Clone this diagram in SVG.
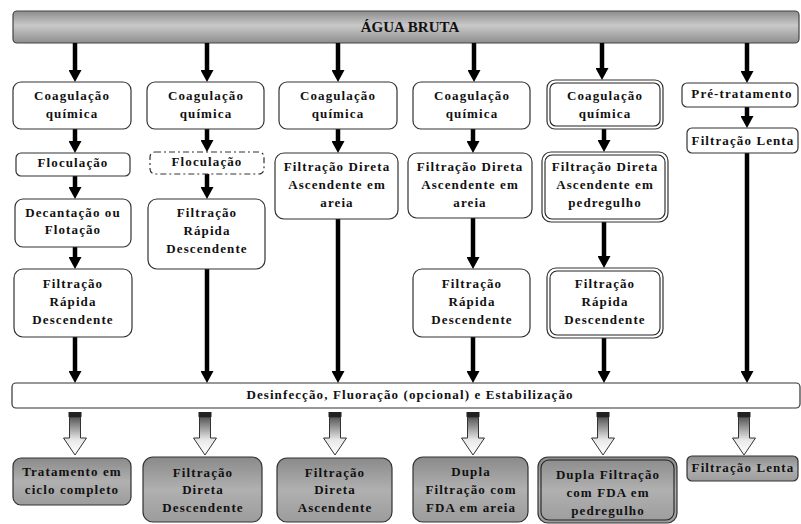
<svg xmlns="http://www.w3.org/2000/svg" width="801" height="524" viewBox="0 0 801 524">
<defs>
<style>
.box{fill:#fff;stroke:#333;stroke-width:1.2}
.dbl{fill:none;stroke:#222;stroke-width:1.1}
.dash{fill:#fff;stroke:#333;stroke-width:1.2;stroke-dasharray:6 3 2 3}
.gbox{fill:url(#gBox);stroke:#333;stroke-width:1.2}
.t{font-family:"Liberation Serif","Times New Roman",serif;font-weight:bold;font-size:13px;letter-spacing:1.1px;fill:#111;text-anchor:middle}
.title{font-family:"Liberation Serif","Times New Roman",serif;font-weight:bold;font-size:15px;fill:#111;text-anchor:middle}
.arr{stroke:#000;stroke-width:4.5;fill:none;marker-end:url(#ah)}
.hol{fill:url(#gHol);stroke:#333;stroke-width:1}
</style>
<linearGradient id="gBar" x1="0" y1="0" x2="0" y2="1">
<stop offset="0" stop-color="#8c8c8c"/>
<stop offset="0.45" stop-color="#c9c9c9"/>
<stop offset="1" stop-color="#8e8e8e"/>
</linearGradient>
<linearGradient id="gBox" x1="0" y1="0" x2="0" y2="1">
<stop offset="0" stop-color="#8a8a8a"/>
<stop offset="0.5" stop-color="#b0b0b0"/>
<stop offset="1" stop-color="#9c9c9c"/>
</linearGradient>
<linearGradient id="gHol" x1="0" y1="0" x2="0" y2="1">
<stop offset="0" stop-color="#555"/>
<stop offset="0.6" stop-color="#e8e8e8"/>
<stop offset="1" stop-color="#fff"/>
</linearGradient>
<marker id="ah" viewBox="0 0 12 13" refX="2" refY="6.5" markerWidth="12" markerHeight="13" markerUnits="userSpaceOnUse" orient="auto">
<path d="M0,0 L12,6.5 L0,13 z" fill="#000"/>
</marker>
<g id="hollow">
<path class="hol" d="M-5.5,417 L5.5,417 L5.5,438 L11.5,438 L0,455 L-11.5,438 L-5.5,438 Z"/>
<rect x="-6.5" y="412" width="13" height="5" fill="#222"/>
</g>
</defs>
<rect width="801" height="524" fill="#fff"/>

<g id="agua-bruta">
<rect x="13" y="11" width="786" height="32" rx="4" fill="url(#gBar)" stroke="#444" stroke-width="1.2"/>
<text class="title" x="410" y="32">ÁGUA BRUTA</text>
</g>

<g id="connectors">
<line class="arr" x1="75" y1="43" x2="75" y2="72"/>
<line class="arr" x1="207" y1="43" x2="207" y2="72"/>
<line class="arr" x1="338" y1="43" x2="338" y2="72"/>
<line class="arr" x1="474" y1="43" x2="474" y2="72"/>
<line class="arr" x1="602" y1="43" x2="602" y2="70"/>
<line class="arr" x1="747" y1="43" x2="747" y2="73"/>

<line class="arr" x1="75" y1="129" x2="75" y2="143"/>
<line class="arr" x1="75" y1="176" x2="75" y2="189"/>
<line class="arr" x1="75" y1="247" x2="75" y2="259"/>
<line class="arr" x1="75" y1="337" x2="75" y2="373"/>

<line class="arr" x1="207" y1="129" x2="207" y2="142"/>
<line class="arr" x1="207" y1="174" x2="207" y2="189"/>
<line class="arr" x1="207" y1="269" x2="207" y2="373"/>

<line class="arr" x1="338" y1="129" x2="338" y2="143"/>
<line class="arr" x1="338" y1="219" x2="338" y2="373"/>

<line class="arr" x1="473" y1="129" x2="473" y2="143"/>
<line class="arr" x1="473" y1="218" x2="473" y2="259"/>
<line class="arr" x1="473" y1="337" x2="473" y2="373"/>

<line class="arr" x1="604" y1="129" x2="604" y2="142"/>
<line class="arr" x1="604" y1="222" x2="604" y2="258"/>
<line class="arr" x1="604" y1="338" x2="604" y2="373"/>

<line class="arr" x1="747" y1="107" x2="747" y2="118"/>
<line class="arr" x1="747" y1="153" x2="747" y2="373"/>

<use href="#hollow" x="75" y="0"/>
<use href="#hollow" x="205" y="0"/>
<use href="#hollow" x="335" y="0"/>
<use href="#hollow" x="473" y="0"/>
<use href="#hollow" x="603" y="0"/>
<use href="#hollow" x="744" y="0"/>
</g>

<g id="c1-coag"><rect class="box" x="13" y="82" width="118" height="47" rx="8"/>
<text class="t" x="72" y="100">Coagulação</text><text class="t" x="72" y="118">química</text></g>
<g id="c2-coag"><rect class="box" x="147" y="82" width="117" height="47" rx="8"/>
<text class="t" x="206" y="100">Coagulação</text><text class="t" x="206" y="118">química</text></g>
<g id="c3-coag"><rect class="box" x="279" y="82" width="118" height="47" rx="8"/>
<text class="t" x="338" y="100">Coagulação</text><text class="t" x="338" y="118">química</text></g>
<g id="c4-coag"><rect class="box" x="413" y="82" width="117" height="47" rx="8"/>
<text class="t" x="472" y="100">Coagulação</text><text class="t" x="472" y="118">química</text></g>
<g id="c5-coag"><rect class="box" x="547" y="80" width="116" height="49" rx="8"/><rect class="dbl" x="550" y="83" width="110" height="43" rx="6"/>
<text class="t" x="605" y="100">Coagulação</text><text class="t" x="605" y="118">química</text></g>
<g id="c6-pre"><rect class="box" x="682" y="83" width="116" height="24" rx="5"/>
<text class="t" x="742" y="98">Pré-tratamento</text></g>
<g id="c6-lenta"><rect class="box" x="687" y="128" width="111" height="25" rx="5"/>
<text class="t" x="743" y="145">Filtração Lenta</text></g>

<g id="c1-floc"><rect class="box" x="16" y="153" width="114" height="23" rx="5"/>
<text class="t" x="73" y="167">Floculação</text></g>
<g id="c2-floc"><rect class="dash" x="150" y="152" width="114" height="22" rx="5"/>
<text class="t" x="207" y="166">Floculação</text></g>
<g id="c3-fda"><rect class="box" x="275" y="153" width="123" height="66" rx="9"/>
<text class="t" x="337" y="171">Filtração Direta</text><text class="t" x="337" y="189">Ascendente em</text><text class="t" x="337" y="207">areia</text></g>
<g id="c4-fda"><rect class="box" x="408" y="153" width="124" height="65" rx="9"/>
<text class="t" x="470" y="171">Filtração Direta</text><text class="t" x="470" y="189">Ascendente em</text><text class="t" x="470" y="207">areia</text></g>
<g id="c5-fdag"><rect class="box" x="542" y="152" width="126" height="70" rx="9"/><rect class="dbl" x="545" y="155" width="120" height="64" rx="7"/>
<text class="t" x="605" y="171">Filtração Direta</text><text class="t" x="605" y="189">Ascendente em</text><text class="t" x="605" y="207">pedregulho</text></g>

<g id="c1-dec"><rect class="box" x="15" y="199" width="116" height="48" rx="8"/>
<text class="t" x="73" y="217">Decantação ou</text><text class="t" x="73" y="234">Flotação</text></g>
<g id="c2-frd"><rect class="box" x="148" y="199" width="117" height="70" rx="9"/>
<text class="t" x="207" y="217">Filtração</text><text class="t" x="207" y="235">Rápida</text><text class="t" x="207" y="253">Descendente</text></g>

<g id="c1-frd"><rect class="box" x="14" y="269" width="118" height="68" rx="9"/>
<text class="t" x="73" y="288">Filtração</text><text class="t" x="73" y="306">Rápida</text><text class="t" x="73" y="324">Descendente</text></g>
<g id="c4-frd"><rect class="box" x="413" y="269" width="117" height="68" rx="9"/>
<text class="t" x="472" y="288">Filtração</text><text class="t" x="472" y="306">Rápida</text><text class="t" x="472" y="324">Descendente</text></g>
<g id="c5-frd"><rect class="box" x="547" y="268" width="116" height="70" rx="9"/><rect class="dbl" x="550" y="271" width="110" height="64" rx="7"/>
<text class="t" x="605" y="288">Filtração</text><text class="t" x="605" y="306">Rápida</text><text class="t" x="605" y="324">Descendente</text></g>

<g id="desinfeccao"><rect class="box" x="12" y="383" width="788" height="25" rx="4"/>
<text class="t" x="410" y="399">Desinfecção, Fluoração (opcional) e Estabilização</text></g>

<g id="b1"><rect class="gbox" x="13" y="458" width="118" height="47" rx="8"/>
<text class="t" x="72" y="476">Tratamento em</text><text class="t" x="72" y="494">ciclo completo</text></g>
<g id="b2"><rect class="gbox" x="143" y="457" width="119" height="65" rx="10"/>
<text class="t" x="203" y="477">Filtração</text><text class="t" x="203" y="494">Direta</text><text class="t" x="203" y="512">Descendente</text></g>
<g id="b3"><rect class="gbox" x="277" y="458" width="115" height="64" rx="10"/>
<text class="t" x="335" y="477">Filtração</text><text class="t" x="335" y="494">Direta</text><text class="t" x="335" y="512">Ascendente</text></g>
<g id="b4"><rect class="gbox" x="413" y="457" width="115" height="65" rx="10"/>
<text class="t" x="471" y="476">Dupla</text><text class="t" x="471" y="494">Filtração com</text><text class="t" x="471" y="512">FDA em areia</text></g>
<g id="b5"><rect class="gbox" x="538" y="457" width="139" height="66" rx="10"/><rect class="dbl" x="541" y="460" width="133" height="60" rx="8"/>
<text class="t" x="608" y="479">Dupla Filtração</text><text class="t" x="608" y="497">com FDA em</text><text class="t" x="608" y="515">pedregulho</text></g>
<g id="b6"><rect class="gbox" x="687" y="456" width="111" height="25" rx="5"/>
<text class="t" x="743" y="472">Filtração Lenta</text></g>
</svg>
